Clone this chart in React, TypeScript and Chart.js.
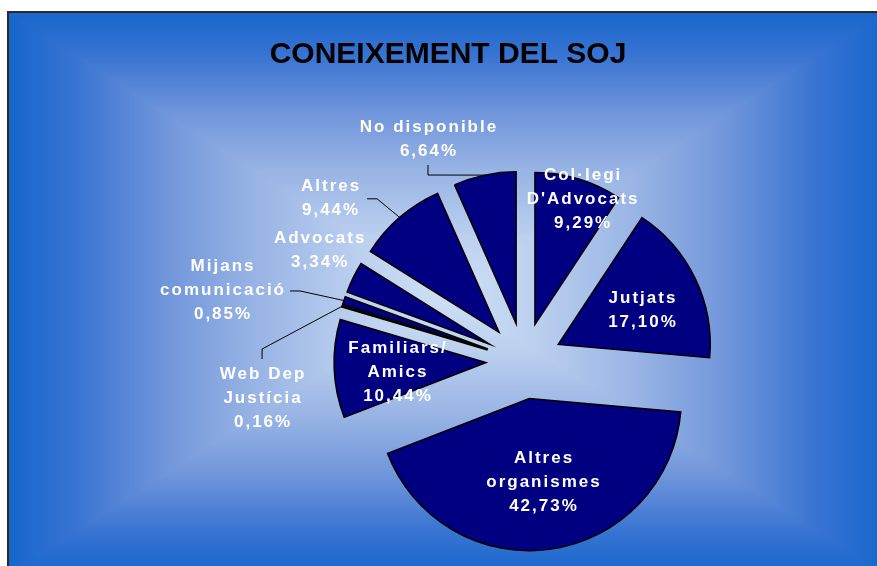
import React, { useEffect, useRef } from "react";
import { Chart, registerables } from "chart.js";

Chart.register(...registerables);

// ---------- data ----------
const TITLE = "CONEIXEMENT DEL SOJ";
const categories: string[][] = [
  ["Col·legi", "D'Advocats"],
  ["Jutjats"],
  ["Altres", "organismes"],
  ["Familiars/", "Amics"],
  ["Web Dep", "Justícia"],
  ["Mijans", "comunicació"],
  ["Advocats"],
  ["Altres"],
  ["No disponible"],
];
const values: number[] = [9.29, 17.1, 42.73, 10.44, 0.16, 0.85, 3.34, 9.44, 6.64];

// ---------- styling / placement ----------
const FONT = '"Liberation Sans", Arial, Helvetica, sans-serif';
const EXPLODE = 38;
// label position relative to the exploded slice apex: angle (deg, clockwise from 12 o'clock), distance (x radius)
const labelPlacement = [
  { a: 20.6, d: 0.882 },
  { a: 67.6, d: 0.596 },
  { a: 170.7, d: 0.556 },
  { a: 264.0, d: 0.589 },
  { a: 258.0, d: 1.517 },
  { a: 282.5, d: 1.792 },
  { a: 298.9, d: 1.283 },
  { a: 308.5, d: 1.421 },
  { a: 334.5, d: 1.347 },
];
// leader lines: elbow and end offsets relative to label centre
const leaders: Record<number, { elbow: [number, number]; end: [number, number] }> = {
  4: { elbow: [0, -49], end: [0, -39] },
  5: { elbow: [78, 1], end: [68, 1] },
  7: { elbow: [47, 1], end: [37, 1] },
  8: { elbow: [0, 36], end: [0, 26] },
};

const fmt = (v: number) => v.toFixed(2).replace(".", ",") + "%";

// rectangular "from centre" gradient stops: t = 0 centre, t = 1 edge
const gradStops: [number, number[]][] = [
  [0, [207, 224, 245]],
  [0.2, [188, 208, 239]],
  [0.45, [150, 178, 228]],
  [0.65, [110, 148, 218]],
  [0.85, [55, 115, 210]],
  [1, [22, 102, 204]],
];

let bgCache: HTMLCanvasElement | null = null;
function getBackground(W: number, H: number, L: number, T: number, R: number, B: number) {
  if (bgCache && bgCache.width === W && bgCache.height === H) return bgCache;
  const c = document.createElement("canvas");
  c.width = W;
  c.height = H;
  const cctx = c.getContext("2d") as CanvasRenderingContext2D;
  const img = cctx.createImageData(W, H);
  const cx = (L + R) / 2, cy = (T + B) / 2;
  const hw = (R - L) / 2, hh = (B - T) / 2;
  for (let y = 0; y < H; y++) {
    for (let x = 0; x < W; x++) {
      const idx = (y * W + x) * 4;
      let col = [255, 255, 255];
      if (x >= L && y >= T && x <= R && y <= B) {
        const t = Math.min(1, Math.max(Math.abs(x + 0.5 - cx) / hw, Math.abs(y + 0.5 - cy) / hh));
        for (let s = 1; s < gradStops.length; s++) {
          if (t <= gradStops[s][0]) {
            const [t0, c0] = gradStops[s - 1];
            const [t1, c1] = gradStops[s];
            const f = (t - t0) / (t1 - t0);
            col = [0, 1, 2].map((k) => c0[k] + (c1[k] - c0[k]) * f);
            break;
          }
        }
      }
      img.data[idx] = col[0];
      img.data[idx + 1] = col[1];
      img.data[idx + 2] = col[2];
      img.data[idx + 3] = 255;
    }
  }
  cctx.putImageData(img, 0, 0);
  bgCache = c;
  return c;
}

const bgPlugin = {
  id: "bgFrame",
  beforeDraw(chart: any) {
    const ctx: CanvasRenderingContext2D = chart.ctx;
    const W = chart.width;
    const H = chart.height;
    const L = 8, T = 12, R = 885, B = 575;
    ctx.save();
    ctx.drawImage(getBackground(W, H, L, T, R, B), 0, 0, W, H);
    ctx.strokeStyle = "#2a2a2a";
    ctx.lineWidth = 2;
    ctx.strokeRect(L, T, R - L, B - T);

    ctx.fillStyle = "#000";
    ctx.font = `bold 30px ${FONT}`;
    ctx.textAlign = "center";
    ctx.textBaseline = "alphabetic";
    ctx.fillText(TITLE, 448, 63);
    ctx.restore();
  },
};

const explodePlugin = {
  id: "explodeSlices",
  beforeDatasetsDraw(chart: any) {
    const ctx: CanvasRenderingContext2D = chart.ctx;
    const meta = chart.getDatasetMeta(0);
    meta.data.forEach((arc: any) => {
      const mid = (arc.startAngle + arc.endAngle) / 2;
      ctx.save();
      ctx.translate(Math.cos(mid) * EXPLODE, Math.sin(mid) * EXPLODE);
      arc.draw(ctx, chart.chartArea);
      ctx.restore();
    });
    return false;
  },
};

const labelPlugin = {
  id: "sliceLabels",
  afterDraw(chart: any) {
    const ctx: any = chart.ctx;
    const meta = chart.getDatasetMeta(0);
    meta.data.forEach((arc: any, i: number) => {
      const mid = (arc.startAngle + arc.endAngle) / 2;
      const ox = arc.x + Math.cos(mid) * EXPLODE;
      const oy = arc.y + Math.sin(mid) * EXPLODE;
      const r = arc.outerRadius;
      const p = labelPlacement[i];
      const th = (p.a * Math.PI) / 180;
      const lx = ox + Math.sin(th) * p.d * r;
      const ly = oy - Math.cos(th) * p.d * r;
      const ld = leaders[i];
      ctx.save();
      if (ld) {
        const ax = ox + Math.cos(mid) * r;
        const ay = oy + Math.sin(mid) * r;
        ctx.strokeStyle = "#000";
        ctx.lineWidth = 1;
        ctx.beginPath();
        ctx.moveTo(ax, ay);
        ctx.lineTo(lx + ld.elbow[0], ly + ld.elbow[1]);
        ctx.lineTo(lx + ld.end[0], ly + ld.end[1]);
        ctx.stroke();
      }
      const lines = [...categories[i], fmt(values[i])];
      ctx.font = `bold 17px ${FONT}`;
      ctx.letterSpacing = "2px";
      ctx.fillStyle = "#ffffff";
      ctx.textAlign = "center";
      ctx.textBaseline = "middle";
      const n = lines.length;
      lines.forEach((t, k) => {
        ctx.fillText(t, lx + 1, ly + (k - (n - 1) / 2) * 24);
      });
      ctx.restore();
    });
  },
};

export default function App() {
  const ref = useRef<HTMLCanvasElement>(null);
  useEffect(() => {
    const chart = new Chart(ref.current as HTMLCanvasElement, {
      type: "pie",
      data: {
        labels: categories.map((c) => c.join(" ")),
        datasets: [
          {
            data: values,
            backgroundColor: "#000080",
            borderColor: "#000000",
            borderWidth: 1.5,
            borderJoinStyle: "miter",
            hoverOffset: 0,
          } as any,
        ],
      },
      options: {
        responsive: false,
        animation: false,
        events: [],
        radius: 152,
        layout: { padding: { left: 171, right: 0, top: 156, bottom: 0 } },
        plugins: {
          legend: { display: false },
          tooltip: { enabled: false },
          title: { display: false },
        },
      } as any,
      plugins: [bgPlugin, explodePlugin, labelPlugin],
    });
    return () => chart.destroy();
  }, []);
  return (
    <div style={{ position: "fixed", left: 0, top: 0, width: 877, height: 566, background: "#fff" }}>
      <canvas ref={ref} width={877} height={566} style={{ display: "block" }} />
    </div>
  );
}
